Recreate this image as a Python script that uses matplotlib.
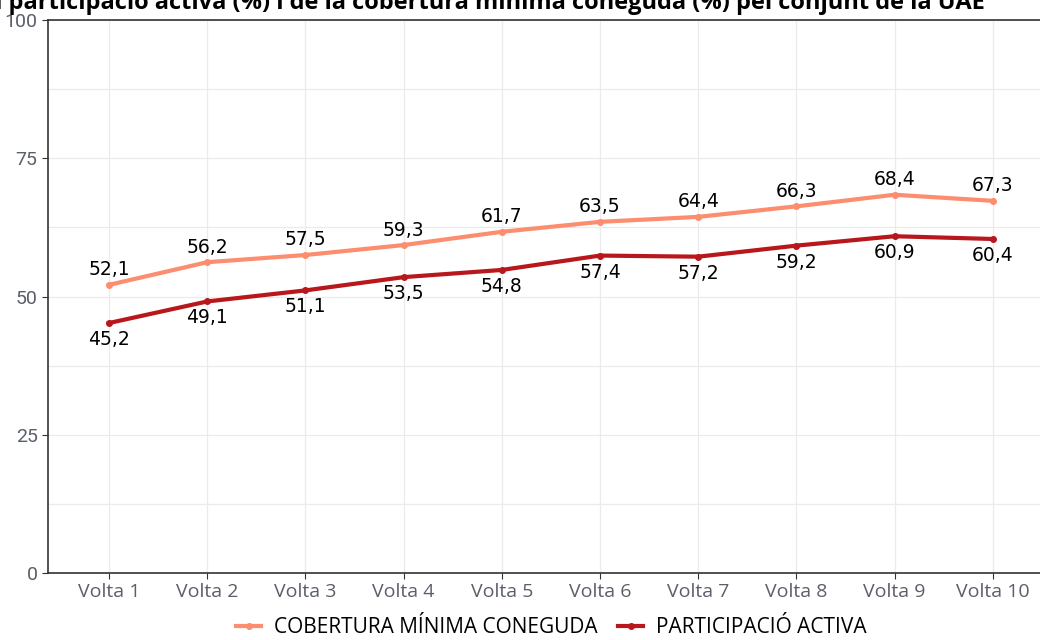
import matplotlib
matplotlib.use("Agg")
import matplotlib.pyplot as plt
from matplotlib.ticker import MultipleLocator

voltes = ["Volta 1", "Volta 2", "Volta 3", "Volta 4", "Volta 5",
          "Volta 6", "Volta 7", "Volta 8", "Volta 9", "Volta 10"]
cobertura = [52.1, 56.2, 57.5, 59.3, 61.7, 63.5, 64.4, 66.3, 68.4, 67.3]
participacio = [45.2, 49.1, 51.1, 53.5, 54.8, 57.4, 57.2, 59.2, 60.9, 60.4]

TITLE = ("Evolució de la participació activa (%) i de la cobertura mínima "
         "coneguda (%) pel conjunt de la UAE")
COB = "#fc8d6e"
PART = "#b8171c"
GRID = "#ebebeb"
INK = "#333333"

plt.rcParams["font.family"] = ["Open Sans", "DejaVu Sans"]

fig = plt.figure(figsize=(10.4, 6.4), dpi=100)
ax = fig.add_axes([48 / 1040, 1 - 573 / 640, 992 / 1040, 553 / 640])

x = list(range(1, len(voltes) + 1))
ax.plot(x, cobertura, color=COB, lw=3, marker="o", ms=4, zorder=3,
        label="COBERTURA MÍNIMA CONEGUDA")
ax.plot(x, participacio, color=PART, lw=3, marker="o", ms=4, zorder=3,
        label="PARTICIPACIÓ ACTIVA")

for xi, v in zip(x, cobertura):
    ax.annotate(f"{v:.1f}".replace(".", ","), (xi, v), xytext=(0, 4),
                textcoords="offset points", ha="center", va="bottom",
                fontsize=13.5, family="DejaVu Sans", color="black")
for xi, v in zip(x, participacio):
    ax.annotate(f"{v:.1f}".replace(".", ","), (xi, v), xytext=(0, -5),
                textcoords="offset points", ha="center", va="top",
                fontsize=13.5, family="DejaVu Sans", color="black")

ax.set_xlim(0.38, 10.48)
ax.set_ylim(0, 100)
ax.set_xticks(x, voltes)
ax.yaxis.set_major_locator(MultipleLocator(25))
ax.yaxis.set_minor_locator(MultipleLocator(12.5))
ax.grid(which="both", color=GRID, lw=0.9)
ax.set_axisbelow(True)

for s in ["left", "bottom", "top"]:
    ax.spines[s].set_color(INK)
    ax.spines[s].set_linewidth(1.2)
ax.spines["right"].set_visible(False)
ax.tick_params(which="major", length=4, color=INK, labelsize=14,
               labelcolor="#5a5f6a")
ax.tick_params(which="minor", length=0)
for lab in ax.get_yticklabels():
    lab.set_family(["Roboto", "DejaVu Sans"])
    lab.set_fontsize(14)

fig.legend(loc="lower center", bbox_to_anchor=(0.53, -0.026), ncol=2,
           frameon=False, fontsize=15, handlelength=1.2, columnspacing=1.0,
           handletextpad=0.6)

fig.text(985 / 1040, 1.0 - 3 / 640, TITLE, ha="right", va="center",
         fontsize=17, fontweight="bold", color="black")

fig.savefig("out.png", dpi=100)
